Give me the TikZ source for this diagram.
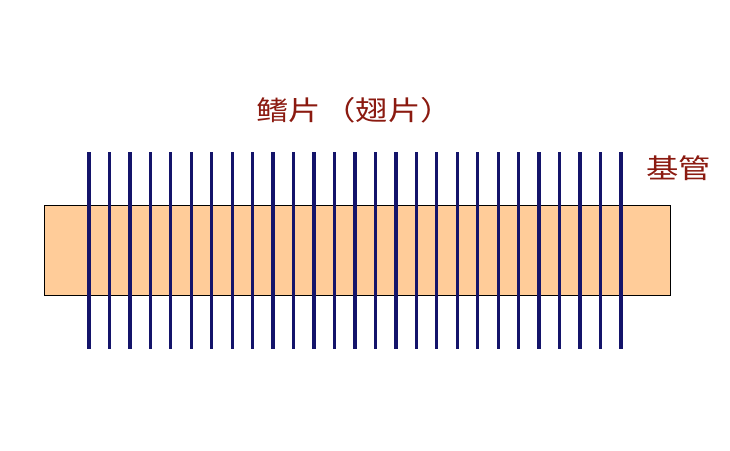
\documentclass[tikz,border=0pt]{standalone}
\usepackage{fontspec}
\newfontfamily\cjk{Noto Sans CJK SC}
\definecolor{finblue}{HTML}{14146A}
\definecolor{tubefill}{HTML}{FFCC99}
\definecolor{labelred}{HTML}{8B1A10}
\tikzset{
  fin/.style={draw=finblue, line width=3.3pt},
  tube/.style={draw=black, fill=tubefill, line width=0.8pt},
  lbl/.style={text=labelred, font=\cjk\fontsize{27}{27}\selectfont, inner sep=0pt, xscale=1.2}
}
\begin{document}
\begin{tikzpicture}[x=1pt,y=-1pt]
\useasboundingbox (0,0) rectangle (730,450);
\fill[white] (0,0) rectangle (730,450);
\node[tube, minimum width=626pt, minimum height=90pt, anchor=north west, inner sep=0pt] (tube) at (44,205) {};
\foreach \i in {0,...,26} {
  \coordinate (t\i) at ({89+\i*20.46},152);
  \coordinate (b\i) at ({89+\i*20.46},349);
  \draw[fin] (t\i) -- (b\i);
}
\node[lbl, anchor=west] (finlabel) at (256,110) {鳍片\hspace{2pt}（翅片）};
\node[lbl, anchor=west] (tubelabel) at (646,168) {基管};
\end{tikzpicture}
\end{document}
